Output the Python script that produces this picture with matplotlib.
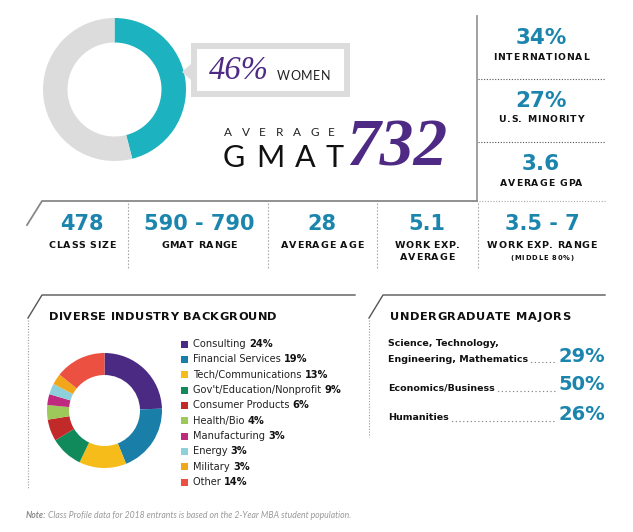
import matplotlib.pyplot as plt
from matplotlib.patches import Rectangle, Polygon

# data
women_pct = 46
avg_gmat = 732

side_values = ['34%', '27%', '3.6']
side_labels = ['INTERNATIONAL', 'U.S. MINORITY', 'AVERAGE GPA']

row_values = ['478', '590 - 790', '28', '5.1', '3.5 - 7']
row_labels = ['CLASS SIZE', 'GMAT RANGE', 'AVERAGE AGE', 'WORK EXP.\nAVERAGE', 'WORK EXP. RANGE']

industries = ['Consulting', 'Financial Services', 'Tech/Communications',
              "Gov't/Education/Nonprofit", 'Consumer Products', 'Health/Bio',
              'Manufacturing', 'Energy', 'Military', 'Other']
industry_pct = [24, 19, 13, 9, 6, 4, 3, 3, 3, 14]
industry_colors = ['#4b2a84', '#1a7fa8', '#f6bd1a', '#108a5a', '#c22a2a',
                   '#9dc85a', '#c02a7e', '#8ed0da', '#f2a71b', '#ec5040']

majors = ['Science, Technology,\nEngineering, Mathematics', 'Economics/Business', 'Humanities']
major_pct = [29, 50, 26]

SANS = 'DejaVu Sans'
THIN = 'Lato'
SERIF = 'Liberation Serif'
BLUE = '#1b85ad'
PURPLE = '#4e2a84'
TEAL = '#1db2bf'
GRAY = '#dcdcdc'
INK = '#111111'

fig = plt.figure(figsize=(6.33, 5.32), dpi=100)
ax = fig.add_axes([0, 0, 1, 1])

# top donut (women)
ax.pie([women_pct, 100 - women_pct], colors=[TEAL, GRAY], startangle=-90,
       counterclock=True, radius=71.5, center=(114.5, 89.5),
       wedgeprops=dict(width=24.5, edgecolor='none'))

# industry donut
ax.pie(industry_pct, colors=industry_colors, startangle=-90, counterclock=True,
       radius=57.5, center=(104.5, 410.5),
       wedgeprops=dict(width=22, edgecolor='none'))

ax.set_xlim(0, 633)
ax.set_ylim(532, 0)
ax.set_aspect('auto')
ax.axis('off')

rend = fig.canvas.get_renderer()


def measure(s, **kw):
    t = ax.text(0, 0, s, **kw)
    w = t.get_window_extent(rend).width
    t.remove()
    return w


def spaced(x, y, s, width, ha='left', **kw):
    # letter-spaced text stretched to a given pixel width
    base = measure('||', **kw)
    adv = [measure('|' + ch + '|', **kw) - base for ch in s]
    ink = sum(adv)
    sp = (width - ink) / max(len(s) - 1, 1)
    x0 = {'left': x, 'center': x - width / 2, 'right': x - width}[ha]
    cur = x0
    for ch, a in zip(s, adv):
        if ch != ' ':
            ax.text(cur, y, ch, ha='left', va='center', **kw)
        cur += a + sp


# callout box
ax.add_patch(Rectangle((194, 46), 153, 48, facecolor='white', edgecolor=GRAY, lw=4.3))
ax.add_patch(Polygon([(191, 64), (191, 80), (182, 72)], closed=True, facecolor=GRAY, edgecolor='none'))
ax.text(209, 71, '%d%%' % women_pct, family=SERIF, style='italic', fontsize=23.5,
        color=PURPLE, va='center', ha='left')
spaced(277, 76, 'WOMEN', 53, family=THIN, fontsize=9, color='#222222')

# average gmat
spaced(224, 132, 'AVERAGE', 111, family=THIN, fontsize=8.5, color='#222222')
spaced(223, 158, 'GMAT', 121, family=THIN, fontsize=22, color=INK)
ax.text(346, 149, str(avg_gmat), family=SERIF, style='italic', fontweight='bold',
        fontsize=48.5, color=PURPLE, va='center', ha='left')

# right column
ax.plot([477, 477], [16, 201], color='#999999', lw=1.3)
for y in [79, 142]:
    ax.plot([478, 605], [y, y], color='#555555', lw=0.8, ls=(0, (1, 1.5)))
side_w = [96, 85, 83]
for i in range(3):
    ax.text(541, 38 + 63 * i, side_values[i], family=SANS, fontweight='bold',
            fontsize=15.5, color=BLUE, ha='center', va='center')
    spaced(541, 57 + 63 * i, side_labels[i], side_w[i], ha='center', family=SANS,
           fontweight='bold', fontsize=6.7, color=INK)

# stats row
ax.plot([27, 42, 477], [225, 201, 201], color='#888888', lw=1.3)
ax.plot([479, 606], [201, 201], color='#aaaaaa', lw=0.8, ls=(0, (1, 1.5)))
for x in [128, 268, 377, 478]:
    ax.plot([x, x], [203, 268], color='#aaaaaa', lw=0.8, ls=(0, (1.5, 1.5)))
row_x = [82, 199, 322, 427, 542]
row_w = [[67], [76], [83], [65, 55], [110]]
for i in range(5):
    ax.text(row_x[i], 224, row_values[i], family=SANS, fontweight='bold',
            fontsize=15, color=BLUE, ha='center', va='center')
    for j, line in enumerate(row_labels[i].split('\n')):
        spaced(row_x[i], 245 + 13 * j, line, row_w[i][j], ha='center', family=SANS,
               fontweight='bold', fontsize=6.8, color=INK)
spaced(542, 258, '(MIDDLE 80%)', 64, ha='center', family=SANS, fontweight='bold',
       fontsize=4.9, color=INK)

# industry section
ax.plot([28, 42, 355], [318, 295, 295], color='#555555', lw=1.0)
ax.plot([28, 28], [320, 488], color='#999999', lw=0.8, ls=(0, (1, 1.5)))
spaced(49, 317, 'DIVERSE INDUSTRY BACKGROUND', 228, family=SANS, fontweight='bold',
       fontsize=8.2, color=INK)
for i in range(len(industries)):
    y = 344 + 15.35 * i
    ax.add_patch(Rectangle((181, y - 3.5), 7, 7, facecolor=industry_colors[i], edgecolor='none'))
    t = ax.text(193, y, industries[i] + ' ', family=SANS, fontsize=7.1, color='#222222',
                ha='left', va='center')
    ax.annotate('%d%%' % industry_pct[i], xy=(1, 0), xycoords=t, family=SANS,
                fontweight='bold', fontsize=7.1, color=INK, ha='left', va='bottom')

# majors section
ax.plot([369, 383, 605], [318, 295, 295], color='#555555', lw=1.0)
ax.plot([369, 369], [320, 437], color='#999999', lw=0.8, ls=(0, (1, 1.5)))
spaced(390, 317, 'UNDERGRADUATE MAJORS', 180, family=SANS, fontweight='bold',
       fontsize=8.2, color=INK)
major_y = [359, 388, 418]
major_texts = []
for i in range(3):
    lines = majors[i].split('\n')
    if len(lines) > 1:
        ax.text(388, major_y[i] - 16, lines[0], family=SANS, fontweight='bold',
                fontsize=6.8, color=INK, ha='left', va='center')
    t = ax.text(388, major_y[i], lines[-1], family=SANS, fontweight='bold',
                fontsize=6.8, color=INK, ha='left', va='center')
    major_texts.append(t)
    ax.text(605, major_y[i] - 3, '%d%%' % major_pct[i], family=SANS, fontweight='bold',
            fontsize=14, color=BLUE, ha='right', va='center')

fig.canvas.draw()
inv = ax.transData.inverted()
for i, t in enumerate(major_texts):
    bb = t.get_window_extent()
    x0 = inv.transform((bb.x1, bb.y0))[0] + 3
    ax.plot([x0, 556], [major_y[i] + 3, major_y[i] + 3], color='#888888', lw=1.0,
            ls=(0, (0.1, 2.6)), dash_capstyle='round')

# note
t = ax.text(26, 515, 'Note:', family=THIN, style='italic', fontweight='bold',
            fontsize=6.2, color='#888888', ha='left', va='center')
ax.annotate(' Class Profile data for 2018 entrants is based on the 2-Year MBA student population.',
            xy=(1, 0), xycoords=t, family=THIN, style='italic', fontsize=6.2,
            color='#999999', ha='left', va='bottom')

fig.savefig('out.png', dpi=100)
